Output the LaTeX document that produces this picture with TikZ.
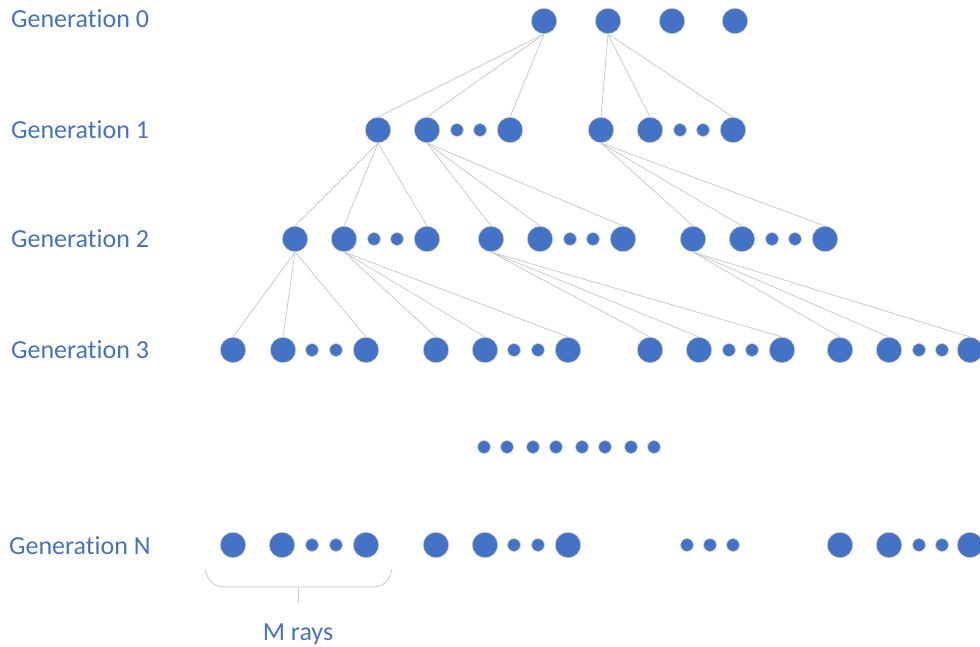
\documentclass[tikz,border=0pt]{standalone}
\usepackage{fontspec}
\setmainfont[Ligatures={NoCommon}]{Carlito}
\definecolor{blu}{HTML}{4472C4}
\definecolor{ln}{HTML}{C8C8C8}
\definecolor{ringc}{HTML}{C9CCD4}
\begin{document}
\begin{tikzpicture}[x=1pt,y=-1pt,
  big/.style={circle,fill=blu,draw=ringc,line width=0.6pt,minimum size=25.5pt,inner sep=0pt},
  small/.style={circle,fill=blu,draw=ringc,line width=0.6pt,minimum size=12.8pt,inner sep=0pt},
  link/.style={draw=ln,line width=0.75pt},
  lab/.style={text=blu,font=\fontsize{26}{31}\selectfont,anchor=west,inner sep=0pt}]
\useasboundingbox (0,0) rectangle (980,647);
\clip (0,0) rectangle (980,647);
% labels
\node[lab] (L0) at (11,19) {Generation 0};
\node[lab] (L1) at (11,130) {Generation 1};
\node[lab] (L2) at (11,239) {Generation 2};
\node[lab] (L3) at (11,350) {Generation 3};
\node[lab] (LN) at (9,546) {Generation N};
% generation 0
\foreach \n/\x in {g0a/544,g0b/608,g0c/672,g0d/735} \node[big] (\n) at (\x,21) {};
% generation 1
\foreach \n/\x in {g1a/378,g1b/427,g1c/510,g1d/601,g1e/650,g1f/733} \node[big] (\n) at (\x,130) {};
\foreach \n/\x in {g1s1/457,g1s2/480,g1s3/680,g1s4/703} \node[small] (\n) at (\x,130) {};
% generation 2
\foreach \n/\x in {g2a/295,g2b/344,g2c/427,g2d/491,g2e/540,g2f/623,g2g/693,g2h/742,g2i/825} \node[big] (\n) at (\x,239) {};
\foreach \n/\x in {g2s1/374,g2s2/397,g2s3/570,g2s4/593,g2s5/772,g2s6/795} \node[small] (\n) at (\x,239) {};
% generation 3
\foreach \n/\x in {g3a/233,g3b/283,g3c/366,g3d/436,g3e/485,g3f/568,g3g/650,g3h/699,g3i/782,g3j/840,g3k/889,g3l/970} \node[big] (\n) at (\x,350) {};
\foreach \n/\x in {g3s1/312,g3s2/336,g3s3/514,g3s4/538,g3s5/729,g3s6/752,g3s7/919,g3s8/942} \node[small] (\n) at (\x,350) {};
% middle dots
\foreach \n/\x in {m1/484,m2/507,m3/533,m4/556,m5/582,m6/605,m7/631,m8/654} \node[small] (\n) at (\x,447) {};
% generation N
\foreach \n/\x in {gna/233,gnb/282,gnc/366,gnd/436,gne/485,gnf/568,gng/840,gnh/889,gni/970} \node[big] (\n) at (\x,545) {};
\foreach \n/\x in {gns1/312,gns2/336,gns3/514,gns4/538,gns5/687,gns6/710,gns7/733,gns8/919,gns9/942} \node[small] (\n) at (\x,545) {};
% links
\foreach \p/\c in {g0a/g1a,g0a/g1b,g0a/g1c,g0b/g1d,g0b/g1e,g0b/g1f,
  g1a/g2a,g1a/g2b,g1a/g2c,g1b/g2d,g1b/g2e,g1b/g2f,g1d/g2g,g1d/g2h,g1d/g2i,
  g2a/g3a,g2a/g3b,g2a/g3c,g2b/g3d,g2b/g3e,g2b/g3f,g2d/g3g,g2d/g3h,g2d/g3i,g2g/g3j,g2g/g3k,g2g/g3l}
  \draw[link] (\p.south) -- (\c.north);
% brace
\coordinate (bl) at (205,569);
\coordinate (br) at (392,569);
\coordinate (bm) at (298,587);
\coordinate (bt) at (298,603);
\draw[link] (bl) .. controls (208,582) and (214,587) .. (226,587) -- (371,587) .. controls (383,587) and (389,582) .. (br);
\draw[link] (bm) -- (bt);
\node[text=blu,font=\fontsize{26}{31}\selectfont,inner sep=0pt] (MR) at (298,634) {M rays};
\end{tikzpicture}
\end{document}
